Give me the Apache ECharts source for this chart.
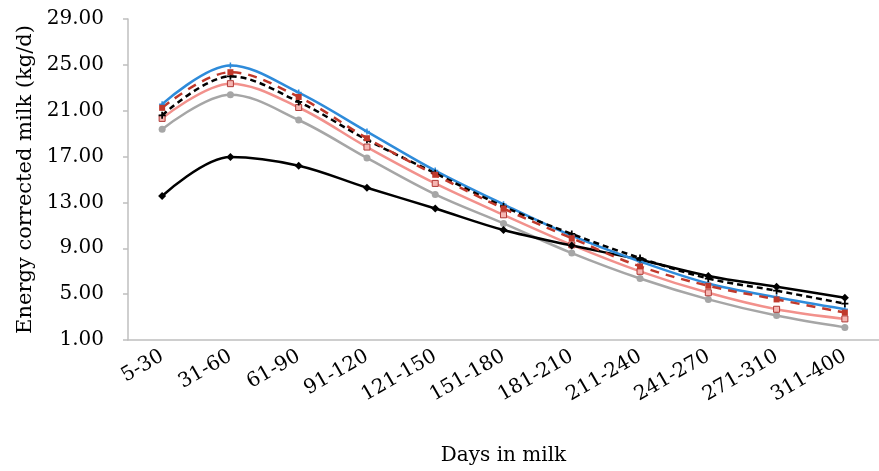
<!DOCTYPE html>
<html>
<head>
<meta charset="utf-8">
<script src="https://cdn.jsdelivr.net/npm/echarts@6/dist/echarts.min.js"></script>
<style>
html,body{margin:0;padding:0;background:#fff;}
#chart{width:879px;height:471px;}
</style>
</head>
<body>
<div id="chart"></div>
<script>
const categories = ['5-30','31-60','61-90','91-120','121-150','151-180','181-210','211-240','241-270','271-310','311-400'];
const yTicks = [1, 5, 9, 13, 17, 21, 25, 29];

const blueSolid   = [21.57, 24.94, 22.58, 19.18, 15.78, 12.84, 10.10, 7.85, 5.93, 4.72, 3.68];
const redDashed   = [21.25, 24.36, 22.20, 18.60, 15.41, 12.47, 9.88, 7.42, 5.73, 4.54, 3.39];
const blackDashed = [20.60, 24.00, 21.77, 18.46, 15.55, 12.64, 10.25, 8.15, 6.36, 5.30, 4.17];
const pinkSolid   = [20.33, 23.36, 21.28, 17.83, 14.66, 11.92, 9.30, 6.99, 5.12, 3.68, 2.84];
const graySolid   = [19.38, 22.40, 20.19, 16.88, 13.70, 11.17, 8.58, 6.36, 4.54, 3.13, 2.10];
const blackSolid  = [13.56, 16.96, 16.20, 14.28, 12.47, 10.59, 9.24, 8.00, 6.59, 5.64, 4.69];

const FONT = 'DejaVu Serif';
const plus = 'path://M3,0H5V3H8V5H5V8H3V5H0V3H3Z';
const chart = echarts.init(document.getElementById('chart'));

function line(name, data, color, opts) {
  return Object.assign({
    name, type: 'line', data, smooth: 0.35,
    lineStyle: { color, width: 2.5 },
    itemStyle: { color },
    symbolSize: 6,
    animation: false
  }, opts);
}

chart.setOption({
  animation: false,
  grid: { left: 128, top: 19, bottom: 127, right: -7, containLabel: false },
  xAxis: {
    type: 'category',
    data: categories,
    boundaryGap: true,
    name: 'Days in milk',
    nameLocation: 'middle',
    nameGap: 106,
    nameTextStyle: { fontFamily: FONT, fontSize: 20, color: '#000' },
    axisLine: { lineStyle: { color: '#BFBFBF', width: 1.5 } },
    axisTick: { alignWithLabel: false, length: 5, lineStyle: { color: '#BFBFBF', width: 1.5 } },
    axisLabel: { rotate: 30, fontFamily: FONT, fontSize: 20, color: '#000', margin: 15 },
    splitLine: { show: false }
  },
  yAxis: {
    type: 'value',
    min: yTicks[0],
    max: yTicks[yTicks.length - 1],
    interval: 4,
    name: 'Energy corrected milk (kg/d)',
    nameLocation: 'middle',
    nameGap: 80,
    nameTextStyle: { fontFamily: FONT, fontSize: 21, color: '#000' },
    axisLine: { show: true, lineStyle: { color: '#BFBFBF', width: 1.5 } },
    axisTick: { show: true, length: 5, lineStyle: { color: '#BFBFBF', width: 1.5 } },
    axisLabel: { fontFamily: FONT, fontSize: 20, color: '#000', margin: 24,
      formatter: v => v.toFixed(2) },
    splitLine: { show: false }
  },
  series: [
    line('Gray', graySolid, '#A6A6A6', { symbol: 'circle', symbolSize: 7 }),
    line('Pink', pinkSolid, '#F2918C', { symbol: 'rect', symbolSize: 6,
      itemStyle: { color: '#F6B6B2', borderColor: '#B03A36', borderWidth: 1 } }),
    line('Black', blackSolid, '#000000', { symbol: 'diamond', symbolSize: 8 }),
    line('Blue', blueSolid, '#2E8BDA', { symbol: plus, symbolSize: 6 }),
    line('BlackDashed', blackDashed, '#000000', { symbol: plus, symbolSize: 7,
      lineStyle: { color: '#000', width: 2.5, type: [6, 4] } }),
    line('RedDashed', redDashed, '#C0392B', { symbol: 'rect', symbolSize: 6,
      lineStyle: { color: '#C0392B', width: 2.5, type: [9, 7] } })
  ]
});
</script>
</body>
</html>
